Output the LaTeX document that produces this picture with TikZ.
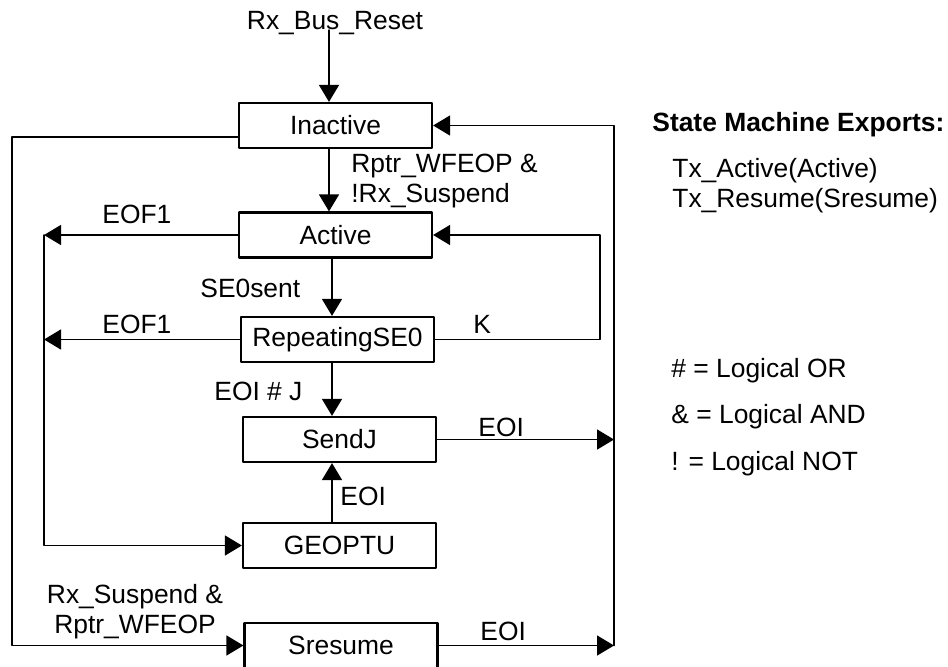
\documentclass[tikz,border=0pt]{standalone}
\usepackage{fontspec}
\setmainfont{Liberation Sans}
\usetikzlibrary{arrows.meta}
\begin{document}
\begin{tikzpicture}[x=0.5pt,y=-0.5pt,line cap=round,line join=round,font=\fontsize{13.2}{15}\selectfont]
\tikzset{state/.style={draw,line width=1.1pt,minimum width=96.5pt,minimum height=22.5pt,inner sep=0pt},
	arr/.style={line width=0.75pt,-{Triangle[length=8.5pt,width=10pt]}},
	lbl/.style={inner sep=0pt,anchor=base west},
	clbl/.style={inner sep=0pt,anchor=base}}
\useasboundingbox (0,0) rectangle (948,666);
% states
\node[state] (inact) at (335.5,125.5) {Inactive};
\node[state] (act) at (335.5,235) {Active};
\node[state] (rep) at (337.5,339.5) {RepeatingSE0};
\node[state] (sendj) at (339.5,439.5) {SendJ};
\node[state] (geoptu) at (339.5,545.5) {GEOPTU};
\node[state] (sres) at (341,645.5) {Sresume};
% rails
\coordinate (xa) at (329,0);\coordinate (xb) at (332,0);
\coordinate (outL) at (12,0);\coordinate (inL) at (44,0);
\coordinate (inR) at (600,0);\coordinate (outR) at (614,0);
\coordinate (rst) at (329,30);
\coordinate (inactL) at ([yshift=-5.75pt]inact.west);
% transitions
\draw[arr] (rst) -- (inact.north -| rst);
\draw[arr] (inact.south -| xa) -- (act.north -| xa);
\draw[arr] (act.south -| xb) -- (rep.north -| xb);
\draw[arr] (rep.south -| xb) -- (sendj.north -| xb);
\draw[arr] (geoptu.north -| xb) -- (sendj.south -| xb);
\draw[arr] (act.west) -- (act.west -| inL);
\draw[arr] (rep.west) -- (rep.west -| inL);
\draw[arr] (act.west -| inL) |- (geoptu.west);
\draw[arr] (inactL) -- (inactL -| outL) |- (sres.west);
\draw[arr] (rep.east) -- (rep.east -| inR) |- (act.east);
\draw[arr] (sendj.east) -- (sendj.east -| outR);
\draw[arr] (sres.east) -- (sres.east -| outR);
\draw[arr] (sres.east -| outR) |- (inact.east);
% labels
\node[clbl] (lreset) at (335,29) {Rx\_Bus\_Reset};
\node[lbl] (lwf) at (351,172) {Rptr\_WFEOP \&};
\node[lbl] (lsus) at (351,202) {!Rx\_Suspend};
\node[lbl] (leofa) at (102,223) {EOF1};
\node[lbl] (leofb) at (102,333) {EOF1};
\node[lbl] (lse) at (200,297) {SE0sent};
\node[lbl] (lk) at (473,333) {K};
\node[lbl] (leoij) at (214,400) {EOI \# J};
\node[lbl] (leoia) at (478,436) {EOI};
\node[lbl] (leoib) at (340,505) {EOI};
\node[lbl] (leoic) at (480,640) {EOI};
\node[clbl] (lsusp) at (135,603) {Rx\_Suspend \&};
\node[clbl] (lwfb) at (135,633) {Rptr\_WFEOP};
% exports and legend
\node[lbl,font=\fontsize{13.2}{15}\selectfont\bfseries] (lexp) at (652,131) {State Machine Exports:};
\node[lbl] (ltxa) at (672,177) {Tx\_Active(Active)};
\node[lbl] (ltxr) at (672,207) {Tx\_Resume(Sresume)};
\foreach \i/\t/\y in {1/\#/377,2/\&/423,3/!/470}{\node[lbl] (lg\i) at (671,\y) {\t{} = Logical \ifcase\i\or OR\or AND\or NOT\fi};}
\end{tikzpicture}
\end{document}
